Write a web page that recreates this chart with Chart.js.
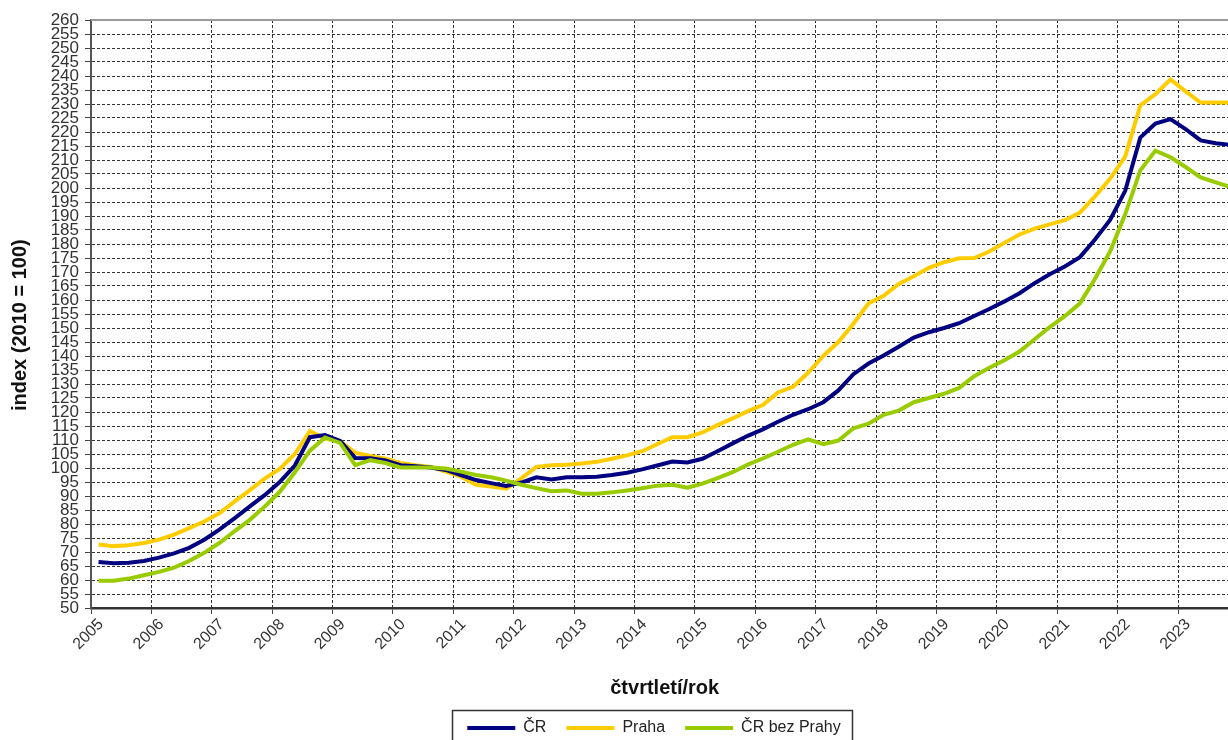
<!DOCTYPE html>
<html>
<head>
<meta charset="utf-8">
<script src="https://cdn.jsdelivr.net/npm/chart.js"></script>
<style>
  html, body { margin: 0; padding: 0; background: #fff; overflow: hidden; width: 1228px; height: 740px; }
  #clip { width: 1228px; height: 740px; overflow: hidden; position: relative; }
  #chart { display: block; position: absolute; left: 0; top: 0; }
</style>
</head>
<body>
<div id="clip"><canvas id="chart" width="1253" height="746"></canvas></div>
<script>
// tick labels on the x axis, one per year (4 quarters each)
const years = ['2005','2006','2007','2008','2009','2010','2011','2012','2013','2014',
               '2015','2016','2017','2018','2019','2020','2021','2022','2023'];

// quarterly index values, 2005 Q1 .. 2023 Q4 (2010 = 100)
const cr = [
  66.4, 66.0, 66.2, 66.8, 68.0, 69.5, 71.5, 74.4, 78.0, 82.0,
  86.2, 90.3, 95.0, 100.9, 111.0, 111.8, 109.7, 103.6, 103.5, 102.7,
  101.0, 100.6, 100.2, 99.3, 97.5, 95.7, 94.6, 93.6, 94.8, 96.7,
  95.9, 96.7, 96.7, 96.9, 97.5, 98.3, 99.5, 100.9, 102.3, 102.0,
  103.3, 106.0, 108.8, 111.5, 113.8, 116.5, 119.0, 121.0, 123.5, 127.7,
  133.5, 137.3, 140.2, 143.3, 146.6, 148.5, 150.0, 151.7, 154.3, 156.8,
  159.5, 162.4, 166.0, 169.2, 172.0, 175.3, 181.6, 188.6, 199.0, 218.0,
  223.0, 224.6, 221.0, 217.0, 216.0, 215.4
];
const praha = [
  72.7, 72.1, 72.4, 73.2, 74.4, 76.2, 78.5, 80.9, 83.8, 88.0,
  92.0, 96.2, 99.7, 105.0, 113.2, 110.5, 109.5, 105.5, 104.3, 103.3,
  101.8, 101.0, 100.4, 98.7, 96.9, 94.0, 93.4, 92.6, 96.3, 100.4,
  101.0, 101.2, 101.6, 102.2, 103.3, 104.5, 106.0, 108.5, 111.0, 111.0,
  112.7, 115.3, 117.7, 120.3, 122.5, 127.0, 129.0, 134.0, 140.0, 145.0,
  151.5, 158.8, 161.5, 165.7, 168.5, 171.5, 173.5, 174.9, 175.0, 177.3,
  180.4, 183.4, 185.5, 187.0, 188.5, 191.2, 197.0, 203.3, 211.2, 229.5,
  233.5, 238.8, 234.5, 230.5, 230.5, 230.5
];
const bezPrahy = [
  59.7, 59.7, 60.5, 61.7, 62.9, 64.4, 66.8, 69.7, 73.2, 77.4,
  81.4, 86.2, 91.5, 98.5, 106.2, 110.9, 109.0, 101.0, 102.8, 101.8,
  100.2, 100.2, 100.2, 99.8, 98.7, 97.5, 96.7, 95.5, 94.0, 92.8,
  91.7, 92.0, 90.8, 90.8, 91.3, 92.0, 92.8, 93.7, 94.0, 93.0,
  94.4, 96.4, 98.5, 101.2, 103.4, 105.8, 108.3, 110.2, 108.5, 109.8,
  114.2, 115.8, 119.0, 120.5, 123.5, 125.0, 126.5, 128.6, 132.8, 135.8,
  138.5, 141.6, 146.0, 150.3, 154.2, 158.8, 167.6, 177.3, 190.6, 206.3,
  213.3, 211.0, 207.5, 203.8, 202.0, 200.3
];

// each quarter sits in the middle of its slot on a linear axis
const toPoints = arr => arr.map((v, i) => ({ x: i + 0.5, y: v }));

const FONT = "'Liberation Sans', Arial, sans-serif";
const LEGEND_SHIFT = 30;

const frame = {
  id: 'frame',
  // legend in the original sits a bit right of centre
  afterLayout(chart) {
    chart.legend.left += LEGEND_SHIFT;
    chart.legend.right += LEGEND_SHIFT;
  },
  afterDraw(chart) {
    const { ctx, chartArea: a, legend } = chart;
    ctx.save();
    // top border of the plot
    ctx.strokeStyle = '#9a9a9a';
    ctx.lineWidth = 2;
    ctx.beginPath();
    ctx.moveTo(a.left, a.top);
    ctx.lineTo(a.right, a.top);
    ctx.stroke();

    // box around the legend
    const pad = legend.options.labels.padding;
    const rowW = legend.lineWidths[0];
    const start = (legend.left + pad + legend.right - rowW) / 2;
    const l = start - 15;
    const r = start + rowW - pad + 12;
    const t = legend.top + pad - 10;
    ctx.strokeStyle = '#333';
    ctx.lineWidth = 1.5;
    ctx.strokeRect(Math.round(l) + 0.5, Math.round(t) + 0.5, Math.round(r - l), 80);
    ctx.restore();
  }
};

new Chart(document.getElementById('chart'), {
  type: 'line',
  data: {
    datasets: [
      { label: 'ČR', data: toPoints(cr), borderColor: '#000080', backgroundColor: '#000080', order: 1 },
      { label: 'Praha', data: toPoints(praha), borderColor: '#FFCC00', backgroundColor: '#FFCC00', order: 2 },
      { label: 'ČR bez Prahy', data: toPoints(bezPrahy), borderColor: '#99CC00', backgroundColor: '#99CC00', order: 0 }
    ]
  },
  options: {
    responsive: false,
    animation: false,
    layout: { padding: { left: 0, right: 5, top: 20, bottom: 0 } },
    elements: {
      line: { borderWidth: 4, tension: 0 },
      point: { radius: 0 }
    },
    plugins: {
      tooltip: { enabled: false },
      legend: {
        position: 'bottom',
        labels: {
          font: { family: FONT, size: 16 },
          color: '#222',
          boxWidth: 48,
          boxHeight: 4,
          padding: 20,
          sort: (a, b) => a.datasetIndex - b.datasetIndex,
          generateLabels: chart => Chart.defaults.plugins.legend.labels.generateLabels(chart)
            .map(l => Object.assign(l, { lineWidth: 0 }))
        }
      }
    },
    scales: {
      x: {
        type: 'linear',
        min: 0,
        max: 76,
        afterFit: s => { s.height = 92; },
        ticks: {
          stepSize: 4,
          autoSkip: false,
          includeBounds: false,
          minRotation: 45,
          maxRotation: 45,
          labelOffset: 10,
          padding: 1,
          color: '#333',
          font: { family: FONT, size: 16 },
          callback: v => years[v / 4] || ''
        },
        grid: {
          color: 'rgba(0,0,0,0.8)',
          lineWidth: 1,
          tickLength: 6,
          tickColor: '#444'
        },
        border: { display: true, color: '#333', width: 2.5, dash: [3, 2] },
        title: {
          display: true,
          text: 'čtvrtletí/rok',
          color: '#111',
          font: { family: FONT, size: 20, weight: 'bold' },
          padding: { top: 0, bottom: 0 }
        }
      },
      y: {
        min: 50,
        max: 260,
        afterFit: s => { s.width = 91; },
        ticks: {
          stepSize: 5,
          autoSkip: false,
          padding: 6,
          color: '#333',
          font: { family: FONT, size: 17 }
        },
        grid: {
          color: ctx => (ctx.tick && ctx.tick.value === 260) ? 'rgba(0,0,0,0)' : 'rgba(0,0,0,0.8)',
          lineWidth: 1,
          tickLength: 6,
          tickColor: '#444'
        },
        border: { display: true, color: '#555', width: 2, dash: [3, 2] },
        title: {
          display: true,
          // trailing no-break spaces nudge the title a little lower, as in the original
          text: 'index (2010 = 100)\u00a0\u00a0\u00a0\u00a0',
          color: '#111',
          font: { family: FONT, size: 20, weight: 'bold' },
          padding: { top: 8, bottom: 0 }
        }
      }
    }
  },
  plugins: [frame]
});
</script>
</body>
</html>
